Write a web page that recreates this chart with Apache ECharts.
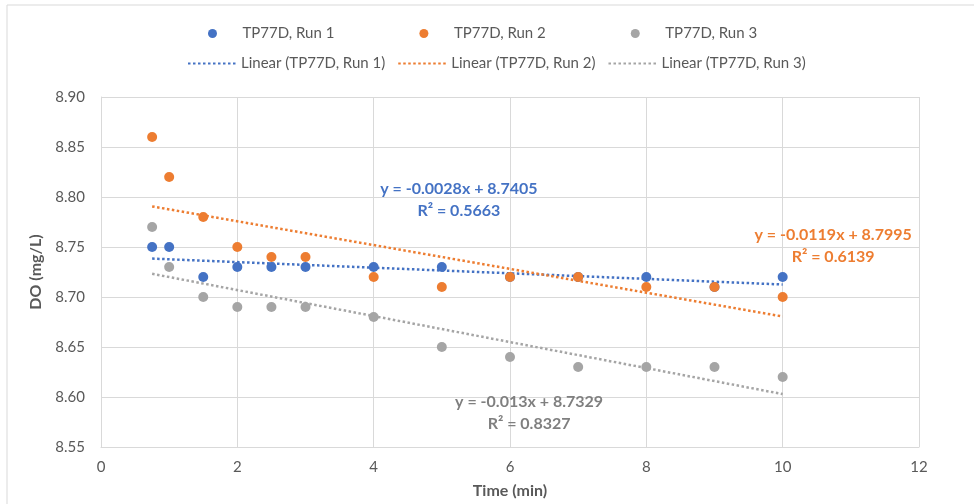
<!DOCTYPE html>
<html>
<head>
<meta charset="utf-8">
<script src="https://cdn.jsdelivr.net/npm/echarts@6/dist/echarts.min.js"></script>
<style>
  html, body { margin: 0; padding: 0; background: #fff; }
  #chart { width: 974px; height: 504px; }
</style>
</head>
<body>
<div id="chart"></div>
<script>
// time (min)
var times = [0.75, 1, 1.5, 2, 2.5, 3, 4, 5, 6, 7, 8, 9, 10];
// DO (mg/L) for each run
var run1 = [8.75, 8.75, 8.72, 8.73, 8.73, 8.73, 8.73, 8.73, 8.72, 8.72, 8.72, 8.71, 8.72];
var run2 = [8.86, 8.82, 8.78, 8.75, 8.74, 8.74, 8.72, 8.71, 8.72, 8.72, 8.71, 8.71, 8.70];
var run3 = [8.77, 8.73, 8.70, 8.69, 8.69, 8.69, 8.68, 8.65, 8.64, 8.63, 8.63, 8.63, 8.62];

// trend line ends [x, y]
var trend1 = [[0.75, 8.7384], [10, 8.7125]];
var trend2 = [[0.75, 8.7906], [10, 8.6805]];
var trend3 = [[0.75, 8.7232], [10, 8.6029]];

var seriesNames = ['TP77D, Run 1', 'TP77D, Run 2', 'TP77D, Run 3'];
var trendNames = ['Linear (TP77D, Run 1)', 'Linear (TP77D, Run 2)', 'Linear (TP77D, Run 3)'];
var equations = [
    'y = -0.0028x + 8.7405\nR² = 0.5663',
    'y = -0.0119x + 8.7995\nR² = 0.6139',
    'y = -0.013x + 8.7329\nR² = 0.8327'
];
// where each equation sits [x, y]
var eqPos = [[5.25, 8.7967], [10.74, 8.7515], [6.28, 8.5843]];

var colors = ['#4472C4', '#ED7D31', '#A5A5A5'];
var eqColors = ['#4472C4', '#ED7D31', '#7F7F7F'];
var FONT = 'Lato, sans-serif';
var GREY_TEXT = '#595959';

function pairs(xs, ys) {
    return xs.map(function (x, i) { return [x, ys[i]]; });
}

var chart = echarts.init(document.getElementById('chart'));

var runs = [run1, run2, run3];
var trends = [trend1, trend2, trend3];
var series = [];

runs.forEach(function (r, i) {
    series.push({
        name: seriesNames[i],
        type: 'scatter',
        data: pairs(times, r),
        symbolSize: 10,
        itemStyle: { color: colors[i], opacity: 1 },
        z: 3
    });
});

trends.forEach(function (t, i) {
    series.push({
        name: trendNames[i],
        type: 'line',
        data: t,
        symbol: 'none',
        silent: true,
        itemStyle: { color: colors[i] },
        lineStyle: { color: colors[i], width: 2.5, type: [2.5, 2.5] },
        markPoint: {
            symbol: 'circle',
            symbolSize: 0,
            data: [{ coord: eqPos[i] }],
            label: {
                show: true,
                formatter: equations[i],
                color: eqColors[i],
                fontFamily: FONT,
                fontWeight: 'bold',
                fontSize: 16,
                lineHeight: 22,
                align: 'center',
                position: 'inside'
            }
        },
        z: 2
    });
});

var legendText = { color: GREY_TEXT, fontSize: 15, fontFamily: FONT };

var option = {
    backgroundColor: '#fff',
    animation: false,
    textStyle: { fontFamily: FONT },
    graphic: [{
        type: 'rect',
        shape: { x: 7, y: 5, width: 1000, height: 600 },
        style: { fill: 'none', stroke: '#D9D9D9', lineWidth: 1 },
        silent: true
    }],
    legend: [{
        data: seriesNames.map(function (n) { return { name: n, icon: 'circle' }; }),
        top: 21,
        left: 203,
        itemWidth: 50,
        itemHeight: 9,
        itemGap: 85,
        textStyle: Object.assign({ width: 100 }, legendText)
    }, {
        data: trendNames,
        top: 51,
        left: 182,
        itemWidth: 48,
        itemHeight: 12,
        itemGap: 12,
        itemStyle: { opacity: 0 },
        textStyle: Object.assign({ width: 150 }, legendText)
    }],
    grid: { left: 101, right: 55, top: 97, bottom: 51, containLabel: false },
    xAxis: {
        type: 'value',
        min: 0,
        max: 12,
        interval: 2,
        name: 'Time (min)',
        nameLocation: 'middle',
        nameGap: 36,
        nameTextStyle: { color: GREY_TEXT, fontSize: 16, fontWeight: 'bold', fontFamily: FONT },
        axisLine: { show: true, lineStyle: { color: '#D9D9D9' } },
        axisTick: { show: false },
        axisLabel: { color: GREY_TEXT, fontSize: 15, margin: 13, fontFamily: FONT },
        splitLine: { show: true, lineStyle: { color: '#D9D9D9' } }
    },
    yAxis: {
        type: 'value',
        min: 8.55,
        max: 8.90,
        interval: 0.05,
        name: 'DO (mg/L)',
        nameLocation: 'middle',
        nameGap: 57,
        nameTextStyle: { color: GREY_TEXT, fontSize: 16, fontWeight: 'bold', fontFamily: FONT },
        axisLine: { show: true, lineStyle: { color: '#D9D9D9' } },
        axisTick: { show: false },
        axisLabel: {
            color: GREY_TEXT, fontSize: 15, margin: 16, fontFamily: FONT,
            formatter: function (v) { return v.toFixed(2); }
        },
        splitLine: { show: true, lineStyle: { color: '#D9D9D9' } }
    },
    series: series
};

chart.setOption(option);
</script>
</body>
</html>
